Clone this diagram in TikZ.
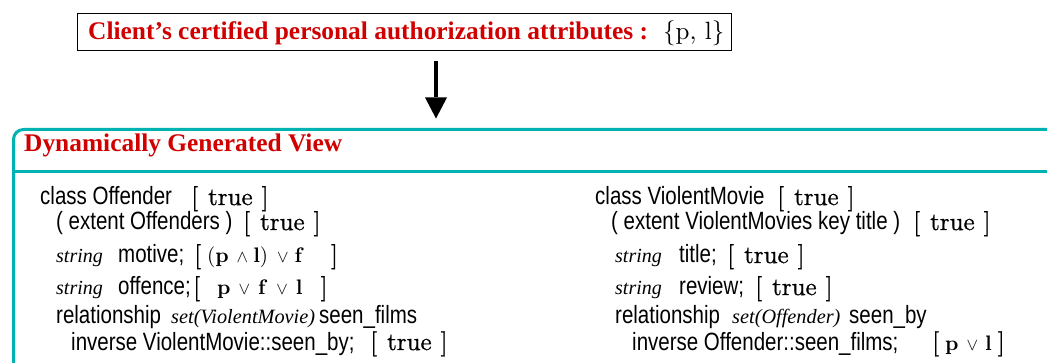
\documentclass[tikz,border=0pt]{standalone}
\usepackage[no-math]{fontspec}
\setmainfont{Liberation Serif}
\newfontfamily\sansfam{Liberation Sans}[FakeStretch=0.82]
\newfontfamily\lmr{lmroman10-regular}[Extension=.otf, BoldFont=lmroman10-bold]
\newfontfamily\lmrheavy{lmroman10-regular}[Extension=.otf, FakeBold=0.9]
\usetikzlibrary{arrows.meta}

\definecolor{viewteal}{RGB}{0,178,178}
\definecolor{headred}{RGB}{208,0,0}

% pieces of the authorization conditions
\newcommand\cmbig{\lmrheavy\fontsize{25}{28}\selectfont}
\newcommand\cmsmall{\fontsize{21}{24}\selectfont}
\newcommand\lb{{\cmbig[}}
\newcommand\rb{{\cmbig]}}
\newcommand\bsym[1]{{\lmr\bfseries\cmsmall #1}}
\newcommand\rsym[1]{{\lmr\cmsmall #1}}
\newcommand\vsym{{\fontsize{24}{26}\selectfont$\scriptstyle\vee$}}
\newcommand\wsym{{\fontsize{24}{26}\selectfont$\scriptstyle\wedge$}}
\newcommand\ctrue{\lb\kern10pt{\cmbig true}\kern9pt\rb}
% ODL type names in italic serif
\newcommand\strg{{\rmfamily\itshape\fontsize{20}{22}\selectfont string}}
\newcommand\setit[1]{{\rmfamily\itshape\fontsize{20.3}{22}\selectfont #1}}

\begin{document}
\begin{tikzpicture}[x=1pt,y=-1pt,
  code/.style={anchor=base west, inner sep=0pt,
    font=\sansfam\fontsize{25}{28}\selectfont},
  heading/.style={anchor=base west, inner sep=0pt, text=headred,
    font=\bfseries\fontsize{25.4}{28}\selectfont},
  frame/.style={draw=viewteal, line width=3pt},
  flow/.style={line width=4pt, -{Triangle[length=21pt,width=22pt,line width=0pt]}}]

\useasboundingbox (0,0) rectangle (1047,363);
\clip (0,0) rectangle (1047,363);

% client credentials
\node[draw, line width=1.4pt, minimum width=654pt, minimum height=37pt,
      inner sep=0pt, anchor=north west] (client) at (77,13) {};
\node[heading] (clienttext) at (88,39.5)
  {\makebox[575pt][l]{Client’s certified personal authorization attributes :}%
   \textcolor{black}{\lmr\mdseries\fontsize{25}{28}\selectfont\{p,\ l\}}};

% view frame (open to the right and bottom)
\draw[frame, rounded corners=10pt] (13.5,390) |- (1080,129.5);
\draw[frame] (13.5,172) -- (1080,172);
\coordinate (viewin) at (436,129.5);
\node[heading] (viewtitle) at (24,152) {Dynamically Generated View};

\draw[flow] ([yshift=-10pt]client.south -| viewin) -- ([yshift=11pt]viewin);

% class Offender
\node[code] (o1) at (40,205) {\makebox[151pt][l]{class Offender}\ctrue};
\node[code] (o2) at (56,230) {\makebox[187pt][l]{( extent Offenders )}\ctrue};
\node[code] (o3) at (56,263) {\makebox[62pt][l]{\strg}\makebox[76pt][l]{motive;}%
  \lb\kern6pt\rsym(\bsym{p}\kern8pt\wsym\kern5pt\bsym{l}\rsym)\kern9pt\vsym\kern6pt\bsym{f}\kern29pt\rb};
\node[code] (o4) at (56,295) {\makebox[62pt][l]{\strg}\makebox[75pt][l]{offence;}%
  \lb\kern17pt\bsym{p}\kern8pt\vsym\kern8pt\bsym{f}\kern11pt\vsym\kern8pt\bsym{l}\kern18pt\rb};
\node[code] (o5) at (56,324) {\makebox[115pt][l]{relationship}%
  \makebox[148pt][l]{\setit{set(ViolentMovie)}}seen\_films};
\node[code] (o6) at (71,350) {\makebox[299pt][l]{inverse ViolentMovie::seen\_by;}\ctrue};

% class ViolentMovie
\node[code] (m1) at (595,205) {\makebox[182pt][l]{class ViolentMovie}\ctrue};
\node[code] (m2) at (611,230) {\makebox[302pt][l]{( extent ViolentMovies key title )}\ctrue};
\node[code] (m3) at (615,263) {\makebox[64pt][l]{\strg}\makebox[48pt][l]{title;}\ctrue};
\node[code] (m4) at (615,295) {\makebox[64pt][l]{\strg}\makebox[76pt][l]{review;}\ctrue};
\node[code] (m5) at (615,324) {\makebox[117pt][l]{relationship}%
  \makebox[117pt][l]{\setit{set(Offender)}}seen\_by};
\node[code] (m6) at (632,350) {\makebox[300pt][l]{inverse Offender::seen\_films;}%
  \lb\kern6pt\bsym{p}\kern8pt\vsym\kern7pt\bsym{l}\kern6pt\rb};
\end{tikzpicture}
\end{document}
